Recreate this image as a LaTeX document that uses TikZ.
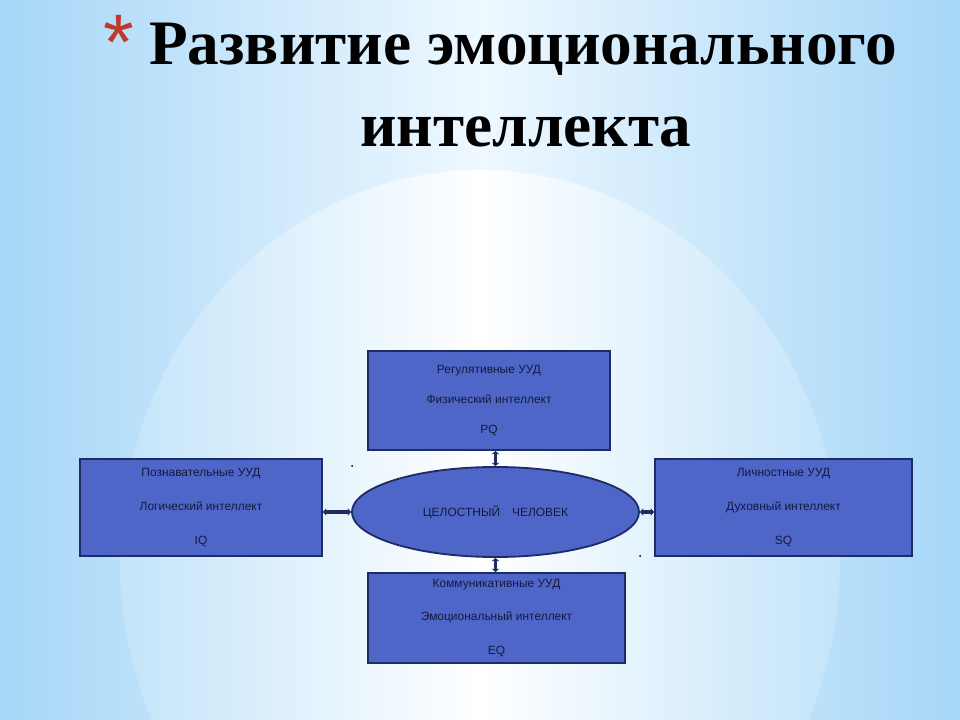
\documentclass[tikz,border=0pt]{standalone}
\usepackage{fontspec}
\setmainfont{Liberation Sans}
\newfontfamily\titlefont{Liberation Serif}
\usepackage{tikz}
\usetikzlibrary{arrows.meta, shapes.geometric}
\usepackage{xcolor}
\definecolor{skyedge}{HTML}{A6D6F7}
\definecolor{skymid}{HTML}{EEF8FF}
\definecolor{glowedge}{HTML}{C3E4FA}
\definecolor{uudfill}{HTML}{4F66C9}
\definecolor{uudline}{HTML}{1E2C66}
\definecolor{uudtext}{HTML}{141A3C}
\definecolor{starred}{HTML}{C0392B}

\begin{document}
\begin{tikzpicture}[x=0.025cm, y=-0.025cm,
      uud/.style={draw=uudline, line width=1.3pt, fill=uudfill, text=uudtext,
                  align=center, inner sep=0pt},
      uudtxt/.style={font=\fontsize{8.5pt}{24pt}\selectfont},
      core/.style={ellipse, draw=uudline, line width=1.3pt, fill=uudfill,
                   text=uudtext, inner sep=0pt, minimum width=7.175cm,
                   minimum height=2.25cm, font=\fontsize{8.5pt}{10pt}\selectfont},
      link/.style={{Stealth[length=2.5pt, width=5.5pt]}-{Stealth[length=2.5pt, width=5.5pt]},
                   draw=uudline, line width=2.6pt},
      ttl/.style={font=\titlefont\bfseries\fontsize{45pt}{54pt}\selectfont,
                  anchor=base, inner sep=0pt}
    ]
      \useasboundingbox (0,0) rectangle (960,720);
      % background
      \shade[left color=skyedge, right color=skyedge, middle color=skymid]
        (0,0) rectangle (960,720);
      \begin{scope}
        \clip (0,0) rectangle (960,720);
        \shade[left color=glowedge, right color=glowedge, middle color=white]
          (480,560) ellipse (360 and 390);
      \end{scope}

      % title
      \node[text=starred, font=\fontsize{56pt}{56pt}\selectfont, inner sep=0pt]
        (star) at (119,42) {*};
      \node[ttl] (title1) at (523,65) {Развитие эмоционального};
      \node[ttl] (title2) at (526,147) {интеллекта};

      % boxes
      \node[uud, font=\fontsize{8.5pt}{21pt}\selectfont, minimum width=6.05cm,
            minimum height=2.475cm]
        (reg) at (489,400.5) {Регулятивные УУД\\Физический интеллект\\PQ};
      \node[uud, uudtxt, minimum width=6.05cm, minimum height=2.425cm]
        (cog) at (201,507.5) {Познавательные УУД\\Логический интеллект\\IQ};
      \node[uud, uudtxt, minimum width=6.425cm, minimum height=2.425cm]
        (pers) at (783.5,507.5) {Личностные УУД\\Духовный интеллект\\SQ};
      \node[uud, uudtxt, minimum width=6.425cm, minimum height=2.25cm]
        (comm) at (496.5,618) {Коммуникативные УУД\\Эмоциональный интеллект\\EQ};
      \node[core] (whole) at (495.5,512) {ЦЕЛОСТНЫЙ\quad ЧЕЛОВЕК};

      % links
      \draw[link] (reg.south -| whole.north) -- (whole.north);
      \draw[link] (whole.west) -- (cog.east |- whole.west);
      \draw[link] (whole.east) -- (pers.west |- whole.east);
      \draw[link] (whole.south) -- (comm.north -| whole.south);

      % stray dots
      \fill[black] (352,466) circle (1);
      \fill[black] (640,556) circle (1);
    \end{tikzpicture}
\end{document}
